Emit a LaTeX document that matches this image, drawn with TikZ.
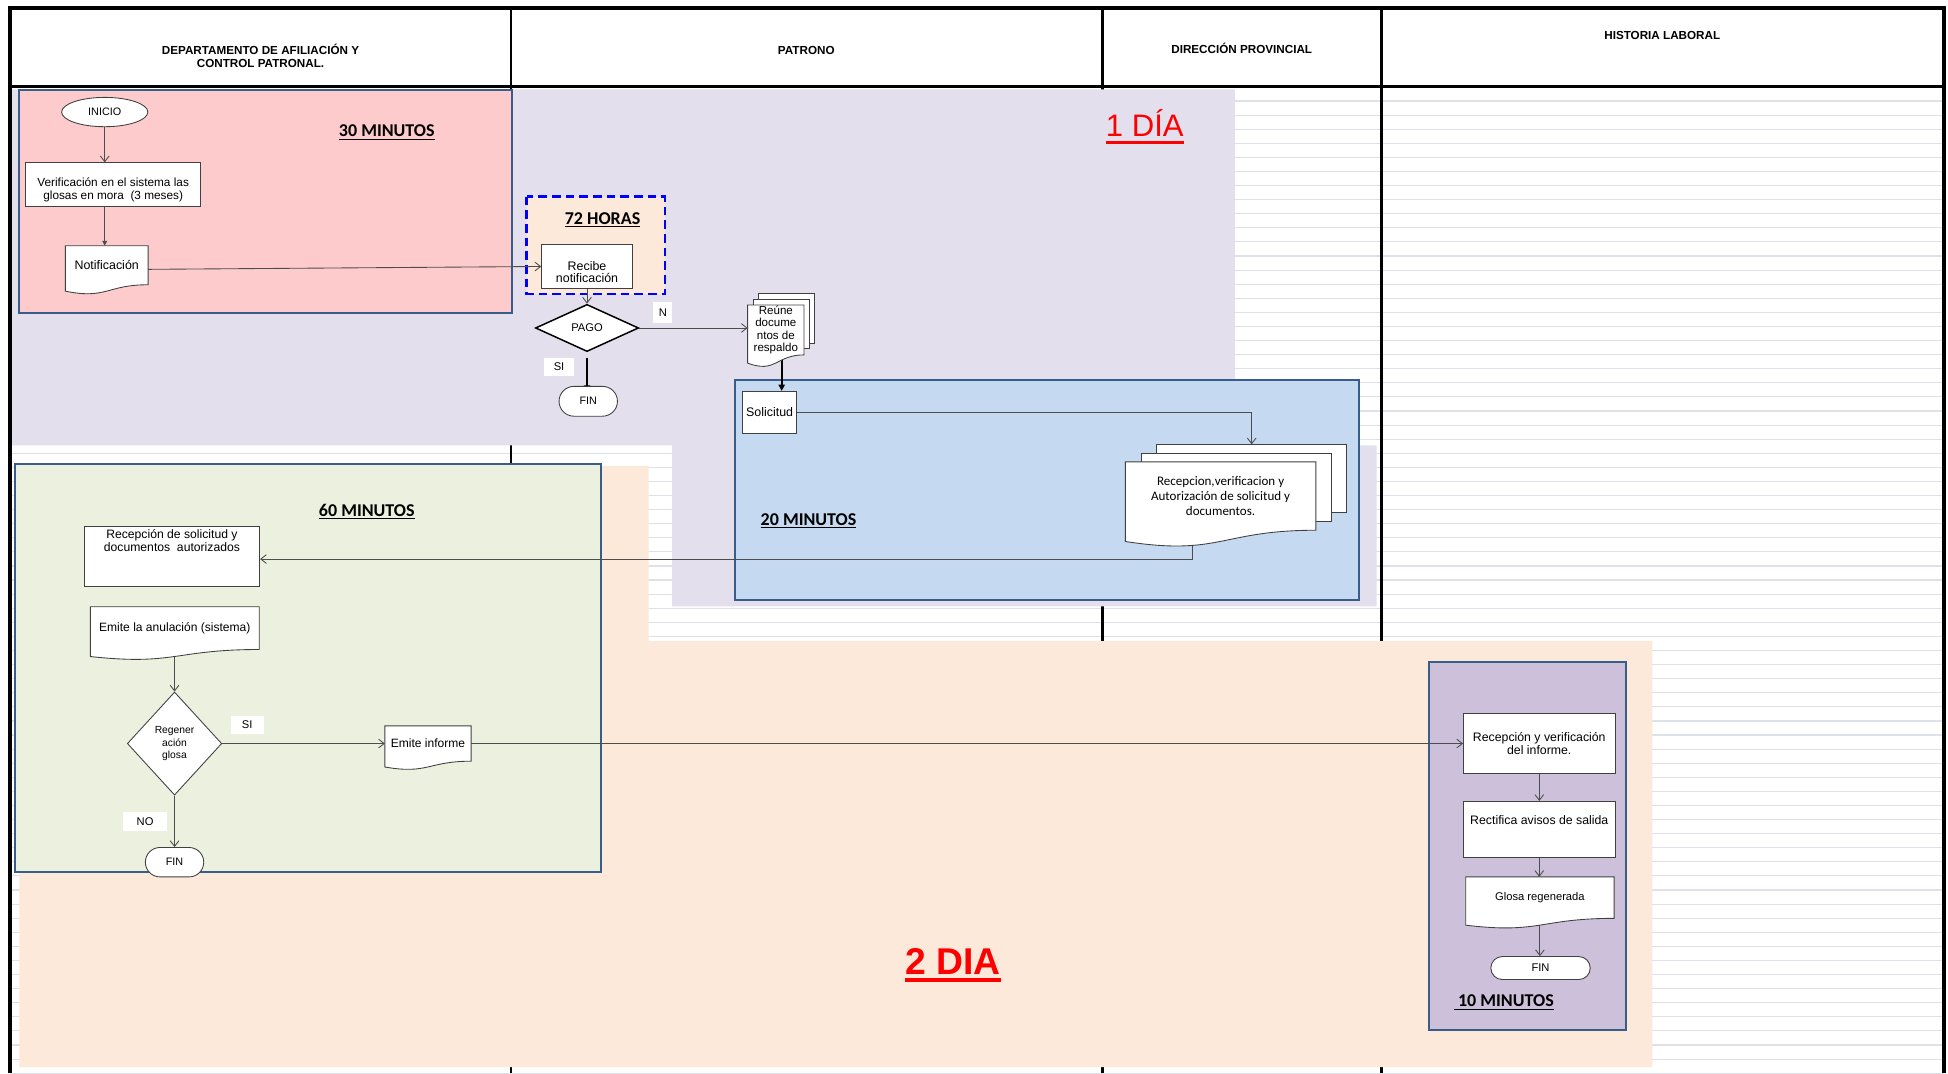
\documentclass[tikz,border=0pt]{standalone}
\usepackage{fontspec}
\setmainfont{Liberation Sans}
\newfontfamily\calibfont{Carlito}
\usetikzlibrary{arrows.meta,shapes.geometric,shapes.misc,calc}
\pgfdeclarelayer{regions}
\pgfdeclarelayer{conns}
\pgfdeclarelayer{docs}
\pgfsetlayers{regions,conns,docs,main}

\definecolor{lav}{HTML}{E4DFEC}
\definecolor{peach}{HTML}{FDE9D9}
\definecolor{pinkbox}{HTML}{FDCBCB}
\definecolor{bluebox}{HTML}{C5D9F1}
\definecolor{greenbox}{HTML}{EBF1DE}
\definecolor{purplebox}{HTML}{CCC0DA}
\definecolor{regline}{HTML}{385D8A}
\definecolor{gridc}{HTML}{DFE1E9}
\definecolor{nodeline}{HTML}{404040}
\definecolor{conncol}{HTML}{4D4D4D}

\newcommand\fsz[2]{\fontsize{#1}{#2}\selectfont}
\newcommand\myul[3]{\setbox0=\hbox{#3}\rlap{\rule[-#1]{\wd0}{#2}}\box0}
\newcommand\docshape[1]{%
  \path[docline] let \p1=(#1.north west), \p2=(#1.south east), \n1={\y1-\y2} in
   (\x1,\y1) -- (\x2,\y1) -- (\x2,\y2)
   .. controls ({0.5*\x1+0.5*\x2},\y2) and ({0.5*\x1+0.5*\x2},{\y2-0.38*\n1}) ..
   (\x1,{\y2-0.1646*\n1}) -- cycle;}

\tikzset{
  procbox/.style={rectangle, draw=nodeline, fill=white, line width=0.7pt, inner sep=1pt, align=center, font=\fsz{9.7}{11}},
  txt/.style={inner sep=0pt, align=center},
  docnode/.style={rectangle, inner sep=0pt, align=center},
  termell/.style={ellipse, draw=nodeline, fill=white, line width=0.7pt, inner sep=0pt},
  termrr/.style={rounded rectangle, draw=nodeline, fill=white, line width=0.7pt, inner sep=0pt, font=\fsz{8.7}{10}},
  decision/.style={diamond, draw=nodeline, fill=white, line width=0.7pt, inner sep=0pt, align=center},
  lbl/.style={rectangle, fill=white, inner sep=0pt, font=\fsz{9}{10}},
  page/.style={rectangle, draw=nodeline, fill=white, line width=0.7pt, inner sep=0pt},
  docline/.style={draw=nodeline, fill=white, line width=0.7pt},
  mins/.style={anchor=base, inner sep=0pt, font=\calibfont\bfseries\fsz{14.5}{16}},
  hdr/.style={anchor=base, inner sep=0pt, font=\bfseries\fsz{9.4}{11}},
  conn/.style={draw=conncol, line width=0.7pt, -{Straight Barb[length=4.5pt,width=7pt]}},
  conntri/.style={draw=conncol, line width=0.7pt, -{Triangle[length=4pt,width=4pt]}},
  thickconn/.style={draw=black, line width=1.5pt, -{Triangle[length=5pt,width=5pt]}},
  gridline/.style={draw=gridc, line width=0.9pt},
  divline/.style={draw=black, line width=2.2pt},
  regbox/.style={draw=regline, line width=1.8pt},
  frameline/.style={draw=black, line width=3pt},
  headline/.style={draw=black, line width=2.5pt}
}

\begin{document}
\begin{tikzpicture}[x=1pt,y=-1pt]
\useasboundingbox (0,0) rectangle (1568,864);

% ---------------- background, grid, regions ----------------
\begin{pgfonlayer}{regions}
  \fill[white] (0,0) rectangle (1568,864);
  \foreach \k in {1,...,70} \draw[gridline] (8,{70+11.34*\k}) -- (1565,{70+11.34*\k});
  \foreach \xx in {411.4,887.6,1112} \draw[divline] (\xx,6.5) -- (\xx,864);
  \fill[lav] (9,72) -- (994,72) -- (994,358.5) -- (1108,358.5) -- (1108,488)
     -- (541,488) -- (541,358.5) -- (9,358.5) -- cycle;
  \fill[peach] (15.6,375) -- (522,375) -- (522,516) -- (1330,516) -- (1330,859)
     -- (15.6,859) -- cycle;
  \filldraw[regbox, fill=pinkbox] (15,72.5) rectangle (412,251.7);
  \filldraw[regbox, fill=greenbox] (11.8,373.5) rectangle (484,701.6);
  \filldraw[regbox, fill=bluebox] (591.7,306) rectangle (1094,483);
  \filldraw[regbox, fill=purplebox] (1150,533) rectangle (1309,829);
  \filldraw[fill=peach, draw=blue, line width=2.2pt, dash pattern=on 7pt off 4pt]
     (424,158.3) rectangle (535.3,236.7);
  \draw[frameline] (8,864) -- (8,6.5) -- (1565,6.5) -- (1565,864);
  \draw[headline] (8,69.7) -- (1565,69.7);
\end{pgfonlayer}

% ---------------- header ----------------
\node[hdr] (h1a) at (209.7,43.5) {DEPARTAMENTO DE AFILIACIÓN Y};
\node[hdr] (h1b) at (209.7,54.5) {CONTROL PATRONAL.};
\node[hdr] (h2) at (649,43.5) {PATRONO};
\node[hdr] (h3) at (999.5,43) {DIRECCIÓN PROVINCIAL};
\node[hdr] (h4) at (1338,31.7) {HISTORIA LABORAL};

% ---------------- time labels ----------------
\node[mins] (t30) at (311.3,110) {\myul{2.6pt}{1pt}{30 MINUTOS}};
\node[mins] (t72) at (485,180.5) {\myul{2.6pt}{1pt}{72 HORAS}};
\node[mins] (t60) at (295.2,415.4) {\myul{2.6pt}{1pt}{60 MINUTOS}};
\node[mins] (t20) at (650.8,422.7) {\myul{2.6pt}{1pt}{20 MINUTOS}};
\node[mins] (t10) at (1210.5,810.3) {\myul{2.6pt}{1pt}{\ 10 MINUTOS}};
\node[anchor=base, inner sep=0pt, text=red, font=\fsz{25}{28}] (t1dia) at (921.5,110) {\myul{5.8pt}{2.5pt}{1 DÍA}};
\node[anchor=base, inner sep=0pt, text=red, font=\bfseries\fsz{30}{34}] (t2dia) at (767,784.3) {\myul{6.3pt}{3.2pt}{2 DIA}};

% ---------------- nodes ----------------
\node[termell, minimum width=69.4pt, minimum height=23.6pt, font=\fsz{8.7}{10}] (inicio) at (84.3,90.2) {INICIO};
\node[procbox, minimum width=141.2pt, minimum height=35pt] (verif) at (91.1,148.5) {};
\node[txt, font=\fsz{9.5}{10.2}] (veriftxt) at (91.1,152.9) {Verificación en el sistema las\\glosas en mora\ \ (3 meses)};
\node[docnode, minimum width=66.2pt, minimum height=31pt, font=\fsz{10}{11}] (notif) at (85.9,213.5) {Notificación};

\node[procbox, minimum width=73pt, minimum height=35pt] (recibe) at (472.5,214.5) {};
\node[txt, font=\fsz{10}{9.7}] (recibetxt) at (472.5,219.3) {Recibe\\notificación};
\node[decision, draw=black, line width=1.2pt, minimum width=83pt, minimum height=38pt, font=\fsz{9}{10}] (pago) at (472.5,264) {PAGO};
\node[lbl, minimum width=15pt, minimum height=17pt] (lbln) at (533.5,251.5) {N};
\node[lbl, minimum width=24pt, minimum height=15pt] (lblsi1) at (450,295.5) {SI};
\node[termrr, minimum width=47pt, minimum height=24pt] (fin1) at (473.5,323) {FIN};
\node[docnode, minimum width=45pt, minimum height=39.7pt, font=\fsz{9.3}{10.1}] (reune) at (624.5,265.6) {Reúne\\docume\\ntos de\\respaldo};
\node[procbox, minimum width=43pt, minimum height=34pt, font=\fsz{10}{11}] (sol) at (619.5,332) {Solicitud};
\node[docnode, minimum width=153pt, minimum height=54.6pt, font=\calibfont\fsz{10.5}{11.8}] (recdoc) at (982.5,399.3) {Recepcion,verificacion y\\Autorización de solicitud y\\documentos.};

\node[procbox, minimum width=141.2pt, minimum height=48.3pt] (recsol) at (138.4,447.5) {};
\node[txt, font=\fsz{9.8}{10}] (recsoltxt) at (138.4,435.2) {Recepción de solicitud y\\documentos\ \ autorizados};
\node[docnode, minimum width=135.5pt, minimum height=34pt, font=\fsz{9.7}{11}] (emite) at (140.7,505.6) {Emite la anulación\ (sistema)};
\node[decision, minimum width=76pt, minimum height=83pt, font=\fsz{8.3}{10}] (reg) at (140.5,598.5) {Regener\\ación\\glosa};
\node[lbl, minimum width=26.5pt, minimum height=14.6pt] (lblsi2) at (199,583.3) {SI};
\node[docnode, minimum width=69pt, minimum height=28pt, font=\fsz{9.7}{11}] (informe) at (344.5,598.5) {Emite informe};
\node[lbl, minimum width=35.6pt, minimum height=15.6pt] (lblno) at (116.8,661) {NO};
\node[termrr, minimum width=47pt, minimum height=23.7pt] (fin2) at (140.5,694) {FIN};

\node[procbox, minimum width=122pt, minimum height=48pt, font=\fsz{9.9}{10.6}] (recver) at (1239,598.5) {Recepción y verificación\\del informe.};
\node[procbox, minimum width=122pt, minimum height=45pt] (rectif) at (1239,667.5) {};
\node[txt, font=\fsz{9.9}{11}] (rectiftxt) at (1239,660.4) {Rectifica avisos de salida};
\node[docnode, minimum width=119pt, minimum height=33pt, font=\fsz{9}{10}] (glosa) at (1239.5,722.5) {Glosa regenerada};
\node[termrr, minimum width=80pt, minimum height=18.5pt, font=\fsz{9}{10}] (fin3) at (1240,779.2) {FIN};

% ---------------- document shapes ----------------
\begin{pgfonlayer}{docs}
  \docshape{notif}
  \node[page, minimum width=45pt, minimum height=39.7pt] (reune3) at ($(reune.center)+(8.5,-9.4)$) {};
  \node[page, minimum width=45pt, minimum height=39.7pt] (reune2) at ($(reune.center)+(4.2,-4.8)$) {};
  \docshape{reune}
  \node[page, minimum width=153pt, minimum height=54.6pt] (rec3) at ($(recdoc.center)+(25,-14)$) {};
  \node[page, minimum width=153pt, minimum height=54.6pt] (rec2) at ($(recdoc.center)+(12.5,-7)$) {};
  \docshape{recdoc}
  \docshape{emite}
  \docshape{informe}
  \docshape{glosa}
\end{pgfonlayer}

% ---------------- connectors ----------------
\begin{pgfonlayer}{conns}
  \draw[conn] (inicio.south) -- (inicio.south |- verif.north);
  \draw[conntri] (inicio.south |- verif.south) -- (inicio.south |- notif.north);
  \draw[conn] ([yshift=-3.3pt]notif.east) -- (recibe.west);
  \draw[conn] (recibe.south) -- (pago.north);
  \draw[conn] (pago.east) -- (pago.east -| reune.west);
  \draw[thickconn] ([yshift=-4.5pt]pago.south) -- ([yshift=-4.5pt]pago.south |- fin1.north);
  \draw[thickconn] ([xshift=4.7pt]reune.south) -- ([xshift=4.7pt]reune.south |- sol.north);
  \draw[conn] (sol.east) -| (rec3.north);
  \draw[conn] ($(recdoc.south west)!0.353!(recdoc.south east)$) |- ([yshift=-2.5pt]recsol.east);
  \draw[conn] (reg.north |- emite.south) -- (reg.north);
  \draw[conn] (reg.east) -- (informe.west);
  \draw[conn] (reg.south) -- (fin2.north);
  \draw[conn] (informe.east) -- (recver.west);
  \draw[conn] (recver.south) -- (recver.south |- rectif.north);
  \draw[conn] (rectif.south) -- (rectif.south |- glosa.north);
  \draw[conn] (glosa.south) -- (glosa.south |- fin3.north);
\end{pgfonlayer}
\end{tikzpicture}
\end{document}
